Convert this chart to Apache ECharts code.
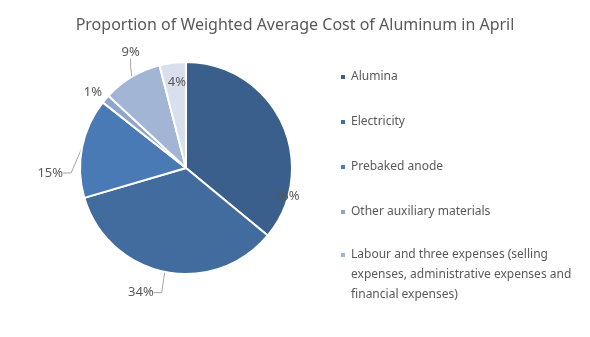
<!DOCTYPE html>
<html><head><meta charset="utf-8">
<script src="https://cdn.jsdelivr.net/npm/echarts@6/dist/echarts.min.js"></script>
<style>html,body{margin:0;padding:0;background:#fff}#c{width:590px;height:337px}</style>
</head><body><div id="c"></div>
<script>
const categories = ['Alumina','Electricity','Prebaked anode','Other auxiliary materials','Labour and three expenses (selling expenses, administrative expenses and financial expenses)','Others'];
const values = [35.8, 34.3, 15.1, 1.3, 9.0, 4.0];
const legendNames = categories.slice(0, 5);
const colors = ['#3B5F8C','#426C9E','#4A7AB5','#8EA6CC','#A3B5D5','#D9DFEC'];
const font = '"Noto Sans", sans-serif';
const labelCfg = [
  {position:'inside', offset:[50,52]},
  {position:'outside'},
  {position:'outside'},
  {position:'outside'},
  {position:'outside'},
  {position:'inside', offset:[-2,-30]}
];
const labelShift = [null,[4,11],[4,27],[17,0],[26,-16],null];
const legendText = {color:'#595959', fontSize:12, fontFamily:font, width:240, overflow:'break', lineHeight:20};
const legendBase = {orient:'vertical', left:334, height:300, icon:'rect', itemWidth:6, itemHeight:6,
    itemGap:25, selectedMode:false, textStyle:legendText};
const chart = echarts.init(document.getElementById('c'));
chart.setOption({
  animation:false,
  title:{text:'Proportion of Weighted Average Cost of Aluminum in April', left:'center', top:12,
    textStyle:{color:'#595959', fontSize:16, fontWeight:'normal', fontFamily:font}},
  legend:[
    Object.assign({}, legendBase, {top:62, data:legendNames.slice(0,4)}),
    Object.assign({}, legendBase, {top:200, data:legendNames.slice(4), formatter: n => '\n\n' + n})
  ],
  series:[{type:'pie', center:[186,168], radius:106, startAngle:90, clockwise:true,
    itemStyle:{borderColor:'#fff', borderWidth:2},
    label:{color:'#595959', fontSize:13, fontFamily:font, formatter:p=>Math.round(p.value)+'%'},
    labelLine:{length:10, length2:8, lineStyle:{color:'#a6a6a6', width:1}},
    labelLayout: p => {
      const s = labelShift[p.dataIndex];
      if (!s) return {};
      const r = p.labelRect;
      return {x: r.x + r.width/2 + s[0], y: r.y + r.height/2 + s[1], align:'center', verticalAlign:'middle'};
    },
    data: categories.map((n,i)=>({name:n, value:values[i], itemStyle:{color:colors[i]}, label:labelCfg[i],
      labelLine: i===3 ? {show:false} : undefined}))
  }]
});
</script></body></html>
